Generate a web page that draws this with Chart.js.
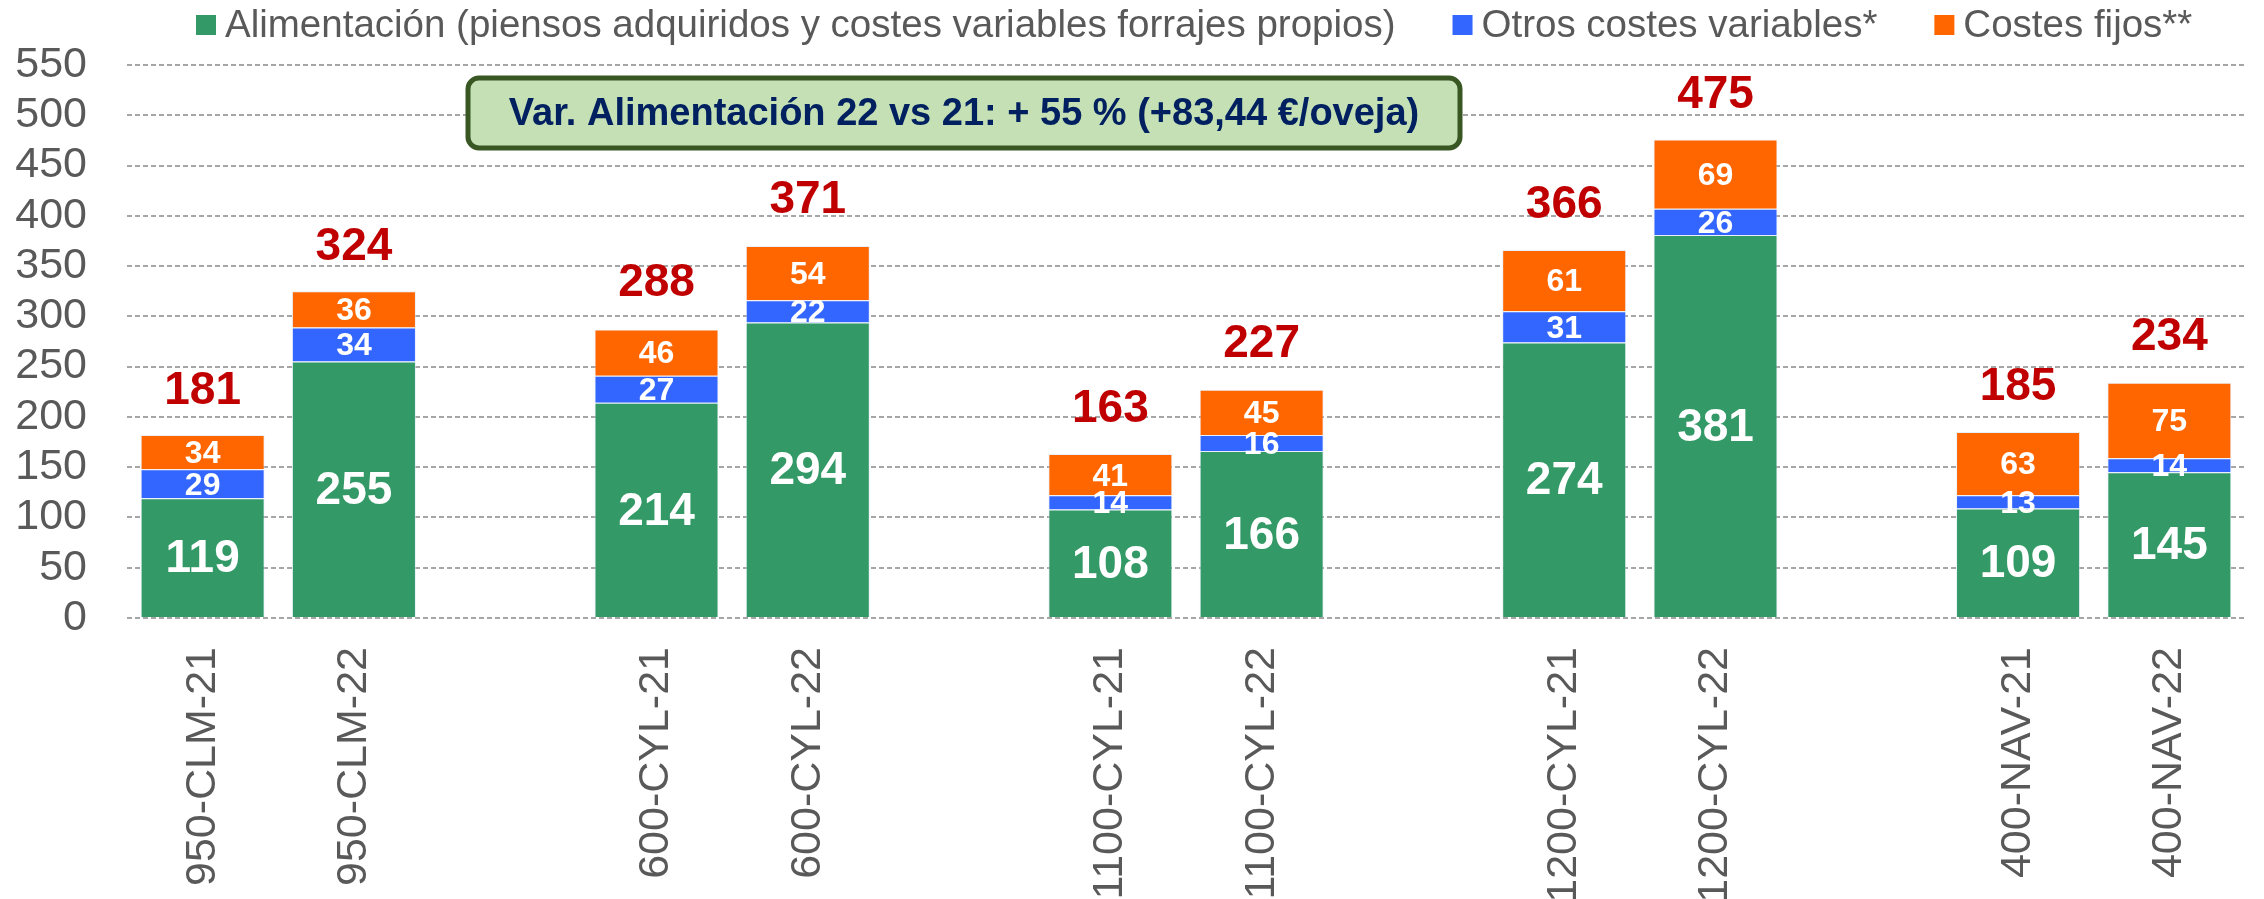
<!DOCTYPE html>
<html>
<head>
<meta charset="utf-8">
<script src="https://cdn.jsdelivr.net/npm/chart.js@4.4.1/dist/chart.umd.min.js"></script>
<style>
  html, body { margin: 0; padding: 0; background: #fff; }
  #wrap { width: 2264px; height: 899px; }
</style>
</head>
<body>
<div id="wrap"><canvas id="chart"></canvas></div>
<script>
// ===== Data =====
const categories = ["950-CLM-21", "950-CLM-22", "", "600-CYL-21", "600-CYL-22", "",
  "1100-CYL-21", "1100-CYL-22", "", "1200-CYL-21", "1200-CYL-22", "", "400-NAV-21", "400-NAV-22"];
const alimentacion = [119, 255, null, 214, 294, null, 108, 166, null, 274, 381, null, 109, 145];
const otrosVariables = [29, 34, null, 27, 22, null, 14, 16, null, 31, 26, null, 13, 14];
const costesFijos = [34, 36, null, 46, 54, null, 41, 45, null, 61, 69, null, 63, 75];
const totales = [181, 324, null, 288, 371, null, 163, 227, null, 366, 475, null, 185, 234];
const yTicks = [0, 50, 100, 150, 200, 250, 300, 350, 400, 450, 500, 550];
const seriesNames = ["Alimentación (piensos adquiridos y costes variables forrajes propios)",
  "Otros costes variables*", "Costes fijos**"];
const nota = "Var. Alimentación 22 vs 21: + 55 % (+83,44 €/oveja)";

const SANS = "'Liberation Sans', Arial, sans-serif";
const GRAY = "#595959";

// ===== Plugins =====
const segmentLabels = {
  id: "segmentLabels",
  afterDatasetsDraw(chart) {
    const ctx = chart.ctx;
    ctx.save();
    ctx.fillStyle = "#fff";
    ctx.textAlign = "center";
    ctx.textBaseline = "middle";
    chart.data.datasets.forEach((ds, i) => {
      ctx.font = (i === 0 ? "bold 46px " : "bold 32px ") + SANS;
      chart.getDatasetMeta(i).data.forEach((bar, j) => {
        const v = ds.data[j];
        if (v == null) return;
        const p = bar.getProps(["x", "y", "base"], true);
        ctx.fillText(String(v), p.x, (p.y + p.base) / 2 + 2);
      });
    });
    // totals above each stack
    const xs = chart.scales.x, ys = chart.scales.y;
    ctx.fillStyle = "#C00000";
    ctx.font = "bold 46px " + SANS;
    totales.forEach((t, j) => {
      if (t == null) return;
      ctx.fillText(String(t), xs.getPixelForValue(j), ys.getPixelForValue(t) - 45);
    });
    ctx.restore();
  }
};

const noteBox = {
  id: "noteBox",
  afterDraw(chart) {
    const ctx = chart.ctx;
    const x = 468, y = 78, w = 992, h = 70, r = 11;
    ctx.save();
    ctx.beginPath();
    ctx.roundRect(x, y, w, h, r);
    ctx.fillStyle = "#C5E0B4";
    ctx.fill();
    ctx.lineWidth = 5;
    ctx.strokeStyle = "#385723";
    ctx.stroke();
    ctx.fillStyle = "#002060";
    ctx.font = "bold 38px " + SANS;
    ctx.textAlign = "center";
    ctx.textBaseline = "middle";
    ctx.fillText(nota, x + w / 2, y + h / 2 + 2);
    ctx.restore();
  }
};

// legend drawn by hand so the spacing can follow the original
const topLegend = {
  id: "topLegend",
  afterDraw(chart) {
    const ctx = chart.ctx;
    let x = 196;
    const cy = 25, box = 20, gap = 9, itemGap = 57;
    ctx.save();
    ctx.font = "38.5px " + SANS;
    ctx.textBaseline = "middle";
    ctx.textAlign = "left";
    chart.data.datasets.forEach(ds => {
      ctx.fillStyle = ds.backgroundColor;
      ctx.fillRect(x, cy - box / 2, box, box);
      x += box + gap;
      ctx.fillStyle = GRAY;
      ctx.fillText(ds.label, x, cy + 1);
      x += ctx.measureText(ds.label).width + itemGap;
    });
    ctx.restore();
  }
};

// ===== Chart =====
new Chart(document.getElementById("chart"), {
  type: "bar",
  data: {
    labels: categories,
    datasets: [
      { label: seriesNames[0], data: alimentacion, backgroundColor: "#339966" },
      { label: seriesNames[1], data: otrosVariables, backgroundColor: "#3366FF" },
      { label: seriesNames[2], data: costesFijos, backgroundColor: "#FF6600" }
    ]
  },
  options: {
    responsive: true,
    maintainAspectRatio: false,
    animation: false,
    layout: { padding: { top: 65, right: 19, left: 0, bottom: 0 } },
    datasets: {
      bar: {
        categoryPercentage: 1,
        barPercentage: 0.82,
        borderWidth: 1,
        borderColor: "rgba(220, 230, 245, 0.6)"
      }
    },
    plugins: {
      legend: { display: false },
      tooltip: { enabled: false }
    },
    scales: {
      x: {
        stacked: true,
        grid: { display: false },
        border: { display: false },
        ticks: {
          autoSkip: false,
          minRotation: 90,
          maxRotation: 90,
          padding: 21,
          color: GRAY,
          font: { family: SANS, size: 43 }
        },
        afterFit(scale) { scale.height = 281; }
      },
      y: {
        stacked: true,
        min: 0,
        max: 550,
        afterBuildTicks(scale) { scale.ticks = yTicks.map(v => ({ value: v })); },
        grid: { color: "#A6A6A6", lineWidth: 2, drawTicks: false },
        border: { display: false, dash: [5, 3] },
        ticks: {
          padding: 40,
          color: GRAY,
          font: { family: SANS, size: 43, lineHeight: 1 }
        },
        afterFit(scale) { scale.width = 127; }
      }
    }
  },
  plugins: [segmentLabels, noteBox, topLegend]
});
</script>
</body>
</html>
